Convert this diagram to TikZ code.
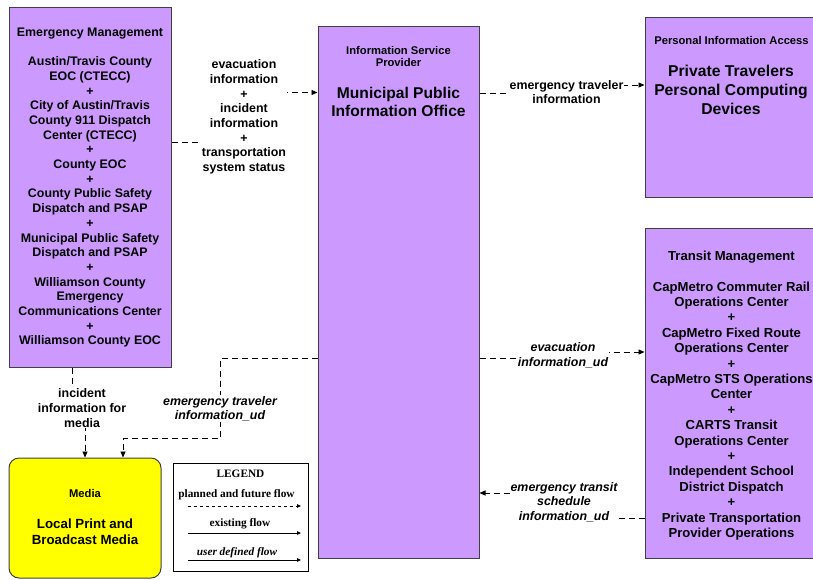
\documentclass[tikz,border=0pt]{standalone}
\usepackage{fontspec}
\setmainfont{Liberation Sans}
\newfontfamily\legfont{Liberation Serif}
\usetikzlibrary{arrows.meta}
\pgfdeclarelayer{bg}
\pgfsetlayers{bg,main}
\definecolor{boxpurple}{HTML}{CC99FF}
\definecolor{boxyellow}{HTML}{FFFF00}
\definecolor{edgegray}{HTML}{404040}
\tikzset{
  ent/.style={draw=edgegray, line width=1pt, fill=boxpurple, inner sep=0pt},
  body/.style={align=center, inner sep=0pt, font=\fontsize{12.4}{14.7}\selectfont\bfseries},
  hdr/.style={align=center, inner sep=0pt, font=\fontsize{11.2}{12.6}\selectfont\bfseries},
  ttl/.style={align=center, inner sep=0pt, font=\fontsize{15.6}{18}\selectfont\bfseries},
  lab/.style={align=center, fill=white, inner sep=1pt, font=\fontsize{12.4}{14.7}\selectfont\bfseries},
  labi/.style={lab, font=\fontsize{12.4}{14.7}\selectfont\bfseries\itshape},
  flow/.style={draw=black, line width=0.9pt, dash pattern=on 6pt off 4pt, -{Triangle[length=6pt,width=5pt]}},
  legtxt/.style={inner sep=0pt, font=\fontsize{11.3}{12}\selectfont\legfont\bfseries},
  legline/.style={draw=black, line width=1pt, -{Triangle[length=4pt,width=3.5pt]}}
}
\begin{document}
\begin{tikzpicture}[x=1pt,y=-1pt]
\clip (0,0) rectangle (813,579);
% entity boxes
\node[ent, minimum width=162pt, minimum height=360pt] (em) at (90,187) {};
\node[ent, minimum width=161pt, minimum height=532pt] (isp) at (398.5,292) {};
\node[ent, minimum width=173pt, minimum height=180pt] (pia) at (731.5,107) {};
\node[ent, minimum width=173pt, minimum height=330pt] (tm) at (731.5,393) {};
\node[ent, fill=boxyellow, rounded corners=10pt, minimum width=152pt, minimum height=120pt] (media) at (85,518) {};
\node[draw=black, line width=1pt, inner sep=0pt, minimum width=135pt, minimum height=108pt] (leg) at (240.5,517) {};
% box texts
\node[body, anchor=north] (emt) at (90,27.5) {Emergency Management\\[14.7pt]Austin/Travis County\\EOC (CTECC)\\+\\City of Austin/Travis\\County 911 Dispatch\\Center (CTECC)\\+\\County EOC\\+\\County Public Safety\\Dispatch and PSAP\\+\\Municipal Public Safety\\Dispatch and PSAP\\+\\Williamson County\\Emergency\\Communications Center\\+\\Williamson County EOC};
\node[hdr, anchor=north] (ispt) at (398.5,46) {Information Service\\Provider};
\node[ttl, anchor=north] (ispn) at (398.5,86.5) {Municipal Public\\Information Office};
\node[hdr, anchor=north] (piat) at (731.5,36.5) {Personal Information Access};
\node[ttl, font=\fontsize{15.7}{18.8}\selectfont\bfseries, anchor=north] (pian) at (731,65) {Private Travelers\\Personal Computing\\Devices};
\node[body, font=\fontsize{13.1}{15.4}\selectfont\bfseries, anchor=north] (tmt) at (731.5,250.5) {Transit Management\\[15.4pt]CapMetro Commuter Rail\\Operations Center\\+\\CapMetro Fixed Route\\Operations Center\\+\\CapMetro STS Operations\\Center\\+\\CARTS Transit\\Operations Center\\+\\Independent School\\District Dispatch\\+\\Private Transportation\\Provider Operations};
\node[hdr, anchor=north] (mdt) at (85,489) {Media};
\node[ttl, font=\fontsize{13.3}{16}\selectfont\bfseries, anchor=north] (mdn) at (85,519) {Local Print and\\Broadcast Media};
% flow labels
\node[lab] (l1) at (244,117) {evacuation\\information\\+\\incident\\information\\+\\transportation\\system status};
\node[lab] (l2) at (566.5,92) {emergency traveler\\information};
\node[lab] (l3) at (82,408) {incident\\information for\\media};
\node[labi] (l4) at (220,408.7) {emergency traveler\\information\_ud};
\node[labi] (l5) at (563,355) {evacuation\\information\_ud};
\node[labi] (l6) at (564,502) {emergency transit\\schedule\\information\_ud};
% helper levels
\coordinate (hA) at (0,142);
\coordinate (hB) at (0,92.5);
\coordinate (hC) at (0,93);
\coordinate (hD) at (0,85);
\coordinate (hE) at (0,358);
\coordinate (hF) at (0,438);
\coordinate (hG) at (0,352);
\coordinate (hH) at (0,518);
\coordinate (hI) at (0,493);
\coordinate (vA) at (72,0);
\coordinate (vB) at (85,0);
\coordinate (vC) at (123,0);
\begin{pgfonlayer}{bg}
\draw[flow] (em.east |- hA) -| (l1.center) |- (isp.west |- hB);
\draw[flow] (isp.east |- hC) -| (l2.center) |- (pia.west |- hD);
\draw[flow] (em.south -| vA) |- (l3.center) -| (media.north -| vB);
\draw[flow] (isp.west |- hE) -| (l4.center) -- (l4.center |- hF) -| (media.north -| vC);
\draw[flow] (isp.east |- hE) -| (l5.center) |- (tm.west |- hG);
\draw[flow] (tm.west |- hH) -| (l6.center) |- (isp.east |- hI);
\end{pgfonlayer}
% legend
\node[legtxt] (lgh) at (240.5,474) {LEGEND};
\node[legtxt] (lg1) at (236.5,495) {planned and future flow};
\coordinate (la) at (188,506);
\coordinate (lb) at (301,506);
\draw[legline, dash pattern=on 3pt off 3pt] (la) -- (lb);
\node[legtxt] (lg2) at (240,524) {existing flow};
\coordinate (lc) at (188,533);
\coordinate (ld) at (301,533);
\draw[legline] (lc) -- (ld);
\node[legtxt, font=\fontsize{11.3}{12}\selectfont\legfont\bfseries\itshape] (lg3) at (237,553) {user defined flow};
\coordinate (le) at (188,560);
\coordinate (lf) at (301,560);
\draw[legline] (le) -- (lf);
\end{tikzpicture}
\end{document}
